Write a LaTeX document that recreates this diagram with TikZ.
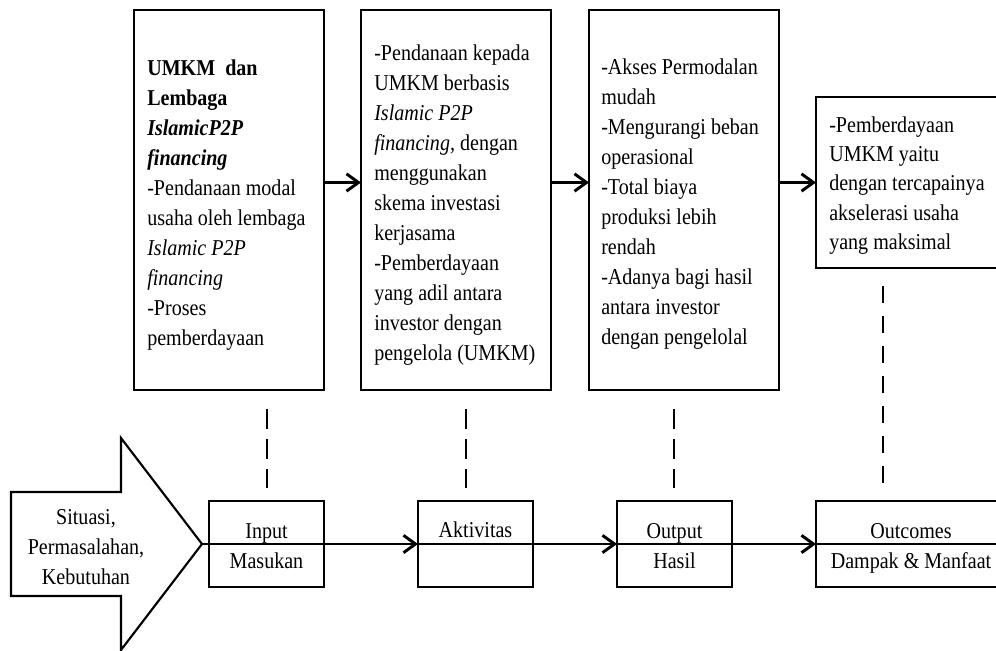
\documentclass[tikz,border=0pt]{standalone}
\usepackage{fontspec}
\setmainfont{Liberation Serif}[FakeStretch=0.885]
\usetikzlibrary{arrows.meta}
\newcommand{\lefttext}[2]{\parbox[t]{#1}{\raggedright #2}}
\newcommand{\midtext}[2]{\parbox[t]{#1}{\centering #2}}
\begin{document}
\begin{tikzpicture}[x=0.75pt,y=-0.75pt,
  box/.style={draw, line width=2pt, inner sep=0pt, outer sep=0pt, rectangle},
  bigbox/.style={box, minimum width=142.5pt, minimum height=285pt},
  smallbox/.style={box, minimum width=86.25pt, minimum height=64.5pt},
  txt/.style={inner sep=0pt, anchor=base west, font=\fontsize{17}{22.5}\selectfont},
  ctxt/.style={inner sep=0pt, anchor=base, font=\fontsize{17}{22.5}\selectfont},
  flow/.style={line width=2.2pt, -{Straight Barb[length=9pt,width=13pt,line width=2.2pt]}},
  plain/.style={line width=2.2pt},
  link/.style={line width=2pt, dash pattern=on 15pt off 7.5pt},
  longlink/.style={line width=2pt, dash pattern=on 12.75pt off 9.75pt},
  bigarrow/.style={draw, line width=1.6pt, line join=miter}
]
\useasboundingbox (0,0) rectangle (996,650);
\clip (0,0) rectangle (996,650);

% top boxes
\node[bigbox] (b1) at (229,200) {};
\node[bigbox] (b2) at (456,200) {};
\node[bigbox] (b3) at (684,200) {};
\node[box, minimum width=142.5pt, minimum height=128.25pt] (b4) at (911,182.5) {};

% top texts
\node[txt] (t1) at (147,75) {\lefttext{150pt}{%
\textbf{UMKM\ \ dan}\\
\textbf{Lembaga}\\
\textbf{\textit{IslamicP2P}}\\
\textbf{\textit{financing}}\\
-Pendanaan modal\\
usaha oleh lembaga\\
\textit{Islamic P2P}\\
\textit{financing}\\
-Proses\\
pemberdayaan}};

\node[txt] (t2) at (374,60.5) {\lefttext{150pt}{%
-Pendanaan kepada\\
UMKM berbasis\\
\textit{Islamic P2P}\\
\textit{financing,} dengan\\
menggunakan\\
skema investasi\\
kerjasama\\
-Pemberdayaan\\
yang adil antara\\
investor dengan\\
pengelola (UMKM)}};

\node[txt] (t3) at (601,74.5) {\lefttext{150pt}{%
-Akses Permodalan\\
mudah\\
-Mengurangi beban\\
operasional\\
-Total biaya\\
produksi lebih\\
rendah\\
-Adanya bagi hasil\\
antara investor\\
dengan pengelolal}};

\node[txt, font=\fontsize{17}{22}\selectfont] (t4) at (829,132) {\lefttext{150pt}{%
-Pemberdayaan\\
UMKM yaitu\\
dengan tercapainya\\
akselerasi usaha\\
yang maksimal}};

% top arrows
\draw[flow] (b1.east |- b4.west) -- (b2.west |- b4.west);
\draw[flow] (b2.east |- b4.west) -- (b3.west |- b4.west);
\draw[flow] (b3.east |- b4.west) -- (b4.west);

% bottom boxes
\node[smallbox] (inp) at (266.5,544) {};
\node[smallbox] (akt) at (475.5,544) {};
\node[smallbox] (outp) at (674.5,544) {};
\node[box, minimum width=142.5pt, minimum height=64.5pt] (outc) at (911,544) {};

% big arrow
\draw[bigarrow] (11,492) -- (121,492) -- (121,438) -- (202,544) -- (121,650) -- (121,596) -- (11,596) -- cycle;
\coordinate (tip) at (202,544);
\coordinate (lineend) at (1000,544);

% bottom texts
\node[ctxt] (sit) at (86,524.5) {\midtext{110pt}{Situasi,\\Permasalahan,\\Kebutuhan}};
\node[ctxt] (tin) at (266.5,538.5) {\midtext{86pt}{Input\\Masukan}};
\node[ctxt] (takt) at (475.5,537) {\midtext{86pt}{Aktivitas}};
\node[ctxt] (tout) at (674.5,538.5) {\midtext{86pt}{Output\\Hasil}};
\node[ctxt] (toc) at (911,538.5) {\midtext{140pt}{Outcomes\\Dampak \& Manfaat}};

% main flow line
\draw[flow] (tip) -- (akt.west);
\draw[flow] (akt.west) -- (outp.west);
\draw[flow] (outp.west) -- (outc.west);
\draw[plain] (outc.west) -- (lineend);

% dashed links
\coordinate (d1a) at (267,409); \coordinate (d1b) at (267,488);
\coordinate (d2a) at (466,409); \coordinate (d2b) at (466,488);
\coordinate (d3a) at (674,409); \coordinate (d3b) at (674,488);
\coordinate (d4a) at (883,286); \coordinate (d4b) at (883,489);
\draw[link] (d1a) -- (d1b);
\draw[link] (d2a) -- (d2b);
\draw[link] (d3a) -- (d3b);
\draw[longlink] (d4a) -- (d4b);
\end{tikzpicture}
\end{document}
